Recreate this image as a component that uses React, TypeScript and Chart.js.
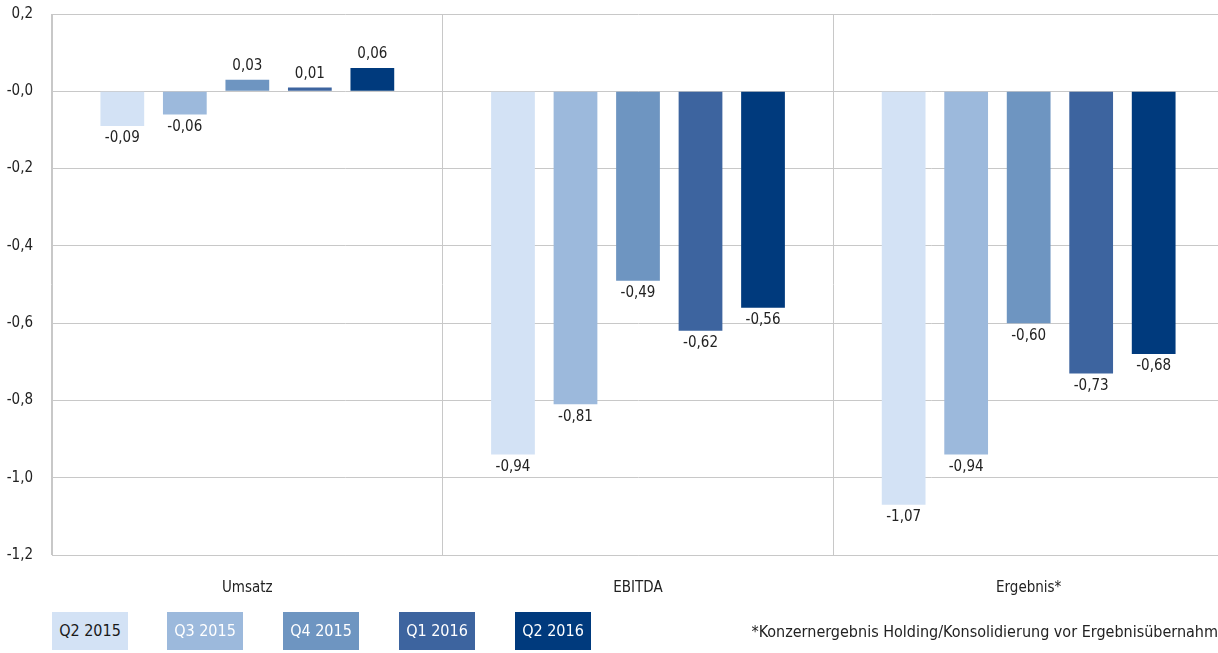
import React, { useEffect, useRef } from "react";
import { Chart, registerables } from "chart.js";

Chart.register(...registerables);

const categories = ["Umsatz", "EBITDA", "Ergebnis*"];
const seriesNames = ["Q2 2015", "Q3 2015", "Q4 2015", "Q1 2016", "Q2 2016"];
const q2_2015 = [-0.09, -0.94, -1.07];
const q3_2015 = [-0.06, -0.81, -0.94];
const q4_2015 = [0.03, -0.49, -0.6];
const q1_2016 = [0.01, -0.62, -0.73];
const q2_2016 = [0.06, -0.56, -0.68];
const seriesColors = ["#d3e2f5", "#9cb9dc", "#6e95c1", "#3d649f", "#003a7d"];
const legendTextColors = ["#1a1a1a", "#ffffff", "#ffffff", "#ffffff", "#ffffff"];
const yTickValues = [-1.2, -1.0, -0.8, -0.6, -0.4, -0.2, 0, 0.2];
const yTickLabels = ["-1,2", "-1,0", "-0,8", "-0,6", "-0,4", "-0,2", "-0,0", "0,2"];
const footnote = "*Konzernergebnis Holding/Konsolidierung vor Ergebnisübernahm";

const FONT = "'Liberation Sans Narrow', 'DejaVu Sans Condensed', 'Roboto', sans-serif";

const valueLabelPlugin = {
  id: "valueLabels",
  afterDatasetsDraw(chart: any) {
    const ctx = chart.ctx;
    ctx.save();
    ctx.font = `15px ${FONT}`;
    ctx.fillStyle = "#222222";
    ctx.textAlign = "center";
    chart.data.datasets.forEach((ds: any, di: number) => {
      const meta = chart.getDatasetMeta(di);
      meta.data.forEach((bar: any, i: number) => {
        const v = ds.data[i];
        const txt = v.toFixed(2).replace(".", ",");
        if (v >= 0) {
          ctx.textBaseline = "bottom";
          ctx.fillText(txt, bar.x, bar.y - 6);
        } else {
          ctx.textBaseline = "top";
          ctx.fillText(txt, bar.x, bar.y + 5);
        }
      });
    });
    ctx.restore();
  },
};

export default function App() {
  const canvasRef = useRef<HTMLCanvasElement | null>(null);

  useEffect(() => {
    if (!canvasRef.current) return;
    const all = [q2_2015, q3_2015, q4_2015, q1_2016, q2_2016];
    const chart = new Chart(canvasRef.current, {
      type: "bar",
      data: {
        labels: categories,
        datasets: all.map((d, i) => ({
          label: seriesNames[i],
          data: d,
          backgroundColor: seriesColors[i],
          borderWidth: 0,
          categoryPercentage: 0.8,
          barPercentage: 0.7,
        })),
      },
      options: {
        animation: false,
        responsive: false,
        maintainAspectRatio: false,
        layout: { padding: { top: 14, right: 16, bottom: 32, left: 0 } },
        plugins: {
          legend: { display: false },
          tooltip: { enabled: false },
        },
        scales: {
          x: {
            offset: true,
            grid: { display: true, offset: true, color: "#c8c8c8", drawTicks: false },
            border: { display: true, color: "#c8c8c8" },
            ticks: { color: "#222222", padding: 24, font: { family: FONT, size: 15 } },
            afterFit: (scale: any) => {
              scale.paddingLeft = 0;
              scale.paddingRight = 0;
            },
          },
          y: {
            min: -1.2,
            max: 0.2,
            afterBuildTicks: (scale: any) => {
              scale.ticks = yTickValues.map((v) => ({ value: v }));
            },
            afterFit: (scale: any) => {
              scale.width = 52;
              scale.paddingTop = 0;
              scale.paddingBottom = 0;
            },
            grid: { color: "#c8c8c8", drawTicks: false },
            border: { display: true, color: "#c8c8c8" },
            ticks: {
              color: "#222222",
              padding: 19,
              font: { family: FONT, size: 15 },
              callback: (value: any) => {
                const idx = yTickValues.findIndex((t) => Math.abs(t - Number(value)) < 1e-6);
                return idx >= 0 ? yTickLabels[idx] : "";
              },
            },
          },
        },
      },
      plugins: [valueLabelPlugin],
    });
    return () => chart.destroy();
  }, []);

  const legendLefts = [52, 167, 283, 399, 515];

  return (
    <div
      style={{
        position: "fixed",
        left: 0,
        top: 0,
        width: 1218,
        height: 653,
        overflow: "hidden",
        background: "#ffffff",
        fontFamily: FONT,
      }}
    >
      <canvas ref={canvasRef} width={1240} height={653} style={{ width: 1240, height: 653, display: "block" }} />
      {seriesNames.map((name, i) => (
        <div
          key={name}
          style={{
            position: "absolute",
            left: legendLefts[i],
            top: 612,
            width: 76,
            height: 38,
            background: seriesColors[i],
            color: legendTextColors[i],
            fontSize: 16,
            lineHeight: "38px",
            textAlign: "center",
          }}
        >
          {name}
        </div>
      ))}
      <div
        style={{
          position: "absolute",
          right: 0,
          top: 620,
          fontSize: 16,
          lineHeight: "24px",
          color: "#222222",
          whiteSpace: "nowrap",
        }}
      >
        {footnote}
      </div>
    </div>
  );
}
